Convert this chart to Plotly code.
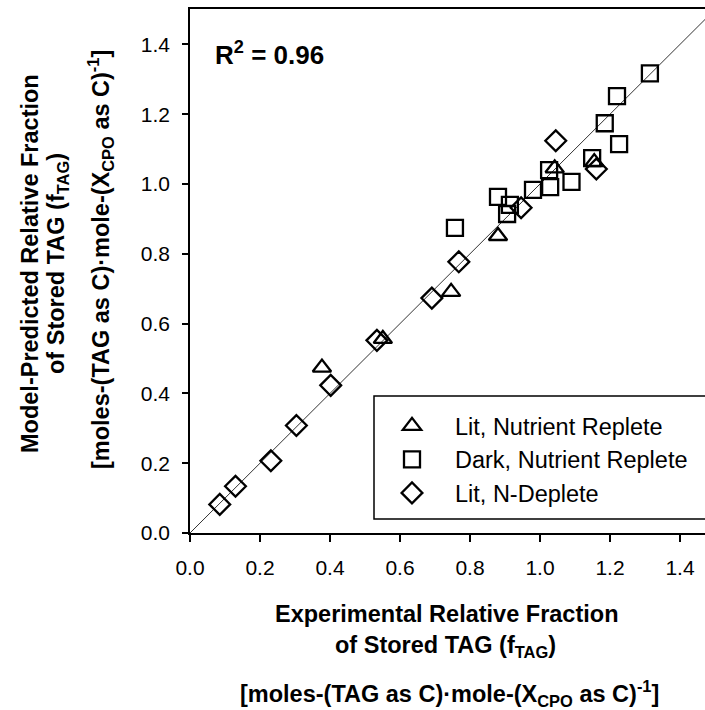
import plotly.graph_objects as go

# ---- data ----
lit_replete_x = [0.377, 0.551, 0.746, 0.880, 1.042, 1.155]
lit_replete_y = [0.474, 0.556, 0.691, 0.851, 1.045, 1.063]

dark_replete_x = [0.757, 0.880, 0.906, 0.914, 0.980, 1.026, 1.029, 1.090, 1.149, 1.185, 1.220, 1.226, 1.314]
dark_replete_y = [0.874, 0.963, 0.914, 0.940, 0.983, 1.040, 0.991, 1.006, 1.074, 1.174, 1.252, 1.114, 1.317]

lit_ndeplete_x = [0.085, 0.130, 0.231, 0.304, 0.402, 0.534, 0.691, 0.768, 0.946, 1.045, 1.161]
lit_ndeplete_y = [0.082, 0.134, 0.207, 0.308, 0.423, 0.552, 0.673, 0.777, 0.932, 1.124, 1.043]

line_x = [0.0, 1.5]
line_y = [0.0, 1.5]

tick_vals = [0.0, 0.2, 0.4, 0.6, 0.8, 1.0, 1.2, 1.4]
tick_text = ["0.0", "0.2", "0.4", "0.6", "0.8", "1.0", "1.2", "1.4"]

series_names = ["Lit, Nutrient Replete", "Dark, Nutrient Replete", "Lit, N-Deplete"]
r2_text = "<b>R<sup>2</sup> = 0.96</b>"

FONT = "Liberation Sans, Arial, sans-serif"

# plot geometry in pixels
W, H = 705, 710
L, T, B = 190, 9, 177
PW = W - L
PH = H - T - B


def px(xpix):
    return (xpix - L) / PW


def py(ypix):
    return (H - B - ypix) / PH


fig = go.Figure()

fig.add_trace(go.Scatter(x=line_x, y=line_y, mode="lines",
                         line=dict(color="#333333", width=1),
                         showlegend=False, hoverinfo="skip"))

marker_line = dict(color="black", width=2.3)
fig.add_trace(go.Scatter(x=lit_replete_x, y=lit_replete_y, mode="markers",
                         name=series_names[0],
                         marker=dict(symbol="triangle-up-open", size=16, color="black", line=marker_line)))
fig.add_trace(go.Scatter(x=dark_replete_x, y=dark_replete_y, mode="markers",
                         name=series_names[1],
                         marker=dict(symbol="square-open", size=16, color="black", line=marker_line)))
fig.add_trace(go.Scatter(x=lit_ndeplete_x, y=lit_ndeplete_y, mode="markers",
                         name=series_names[2],
                         marker=dict(symbol="diamond-open", size=16, color="black", line=marker_line)))

x_max = PW / 350.0
y_max = PH / 349.0

fig.update_layout(
    width=W, height=H,
    margin=dict(l=L, r=0, t=T, b=B, pad=0),
    paper_bgcolor="white", plot_bgcolor="white",
    font=dict(family=FONT, color="black", size=21),
    xaxis=dict(range=[0, x_max], tickvals=tick_vals, ticktext=tick_text,
               showgrid=False, zeroline=False, showline=True, linecolor="black",
               linewidth=1.5, mirror=True, ticks="outside", ticklen=7, tickwidth=1.5,
               tickcolor="black", tickfont=dict(size=21), ticklabelstandoff=8),
    yaxis=dict(range=[0, y_max], tickvals=tick_vals, ticktext=tick_text,
               showgrid=False, zeroline=False, showline=True, linecolor="black",
               linewidth=1.5, mirror=False, ticks="outside", ticklen=6, tickwidth=1.5,
               tickcolor="black", tickfont=dict(size=21), ticklabelstandoff=8),
    legend=dict(x=px(369), y=py(404), xanchor="left", yanchor="top",
                bgcolor="rgba(0,0,0,0)", borderwidth=0, itemwidth=76,
                font=dict(size=23.5, family=FONT), tracegroupgap=0),
    showlegend=True,
)

# legend box
fig.add_shape(type="rect", xref="paper", yref="paper",
              x0=px(374), x1=px(720), y0=py(519), y1=py(396),
              line=dict(color="black", width=1.5), fillcolor="rgba(0,0,0,0)")

ann = []
ann.append(dict(text=r2_text, x=px(213), y=py(53), xanchor="left", yanchor="middle",
                font=dict(size=26)))
# x title
ann.append(dict(text="<b>Experimental Relative Fraction</b>", x=px(446), y=py(614),
                xanchor="center", yanchor="middle", font=dict(size=23.5)))
ann.append(dict(text="<b>of Stored TAG (f<sub>TAG</sub>)</b>", x=px(445), y=py(646),
                xanchor="center", yanchor="middle", font=dict(size=23.5)))
ann.append(dict(text="<b>[moles-(TAG as C)\u00b7mole-(X<sub>CPO</sub> as C)<sup>-1</sup>]</b>",
                x=px(449), y=py(693), xanchor="center", yanchor="middle", font=dict(size=23.5)))
# y title
ann.append(dict(text="<b>Model-Predicted Relative Fraction</b>", x=px(30), y=py(264),
                xanchor="center", yanchor="middle", textangle=-90, font=dict(size=23.5)))
ann.append(dict(text="<b>of Stored TAG (f<sub>TAG</sub>)</b>", x=px(57), y=py(264),
                xanchor="center", yanchor="middle", textangle=-90, font=dict(size=23.5)))
ann.append(dict(text="<b>[moles-(TAG as C)\u00b7mole-(X<sub>CPO</sub> as C)<sup>-1</sup>]</b>",
                x=px(100), y=py(260), xanchor="center", yanchor="middle", textangle=-90,
                font=dict(size=23.5)))
for a in ann:
    a.update(xref="paper", yref="paper", showarrow=False)
fig.update_layout(annotations=ann)

fig.write_html("out.html")
